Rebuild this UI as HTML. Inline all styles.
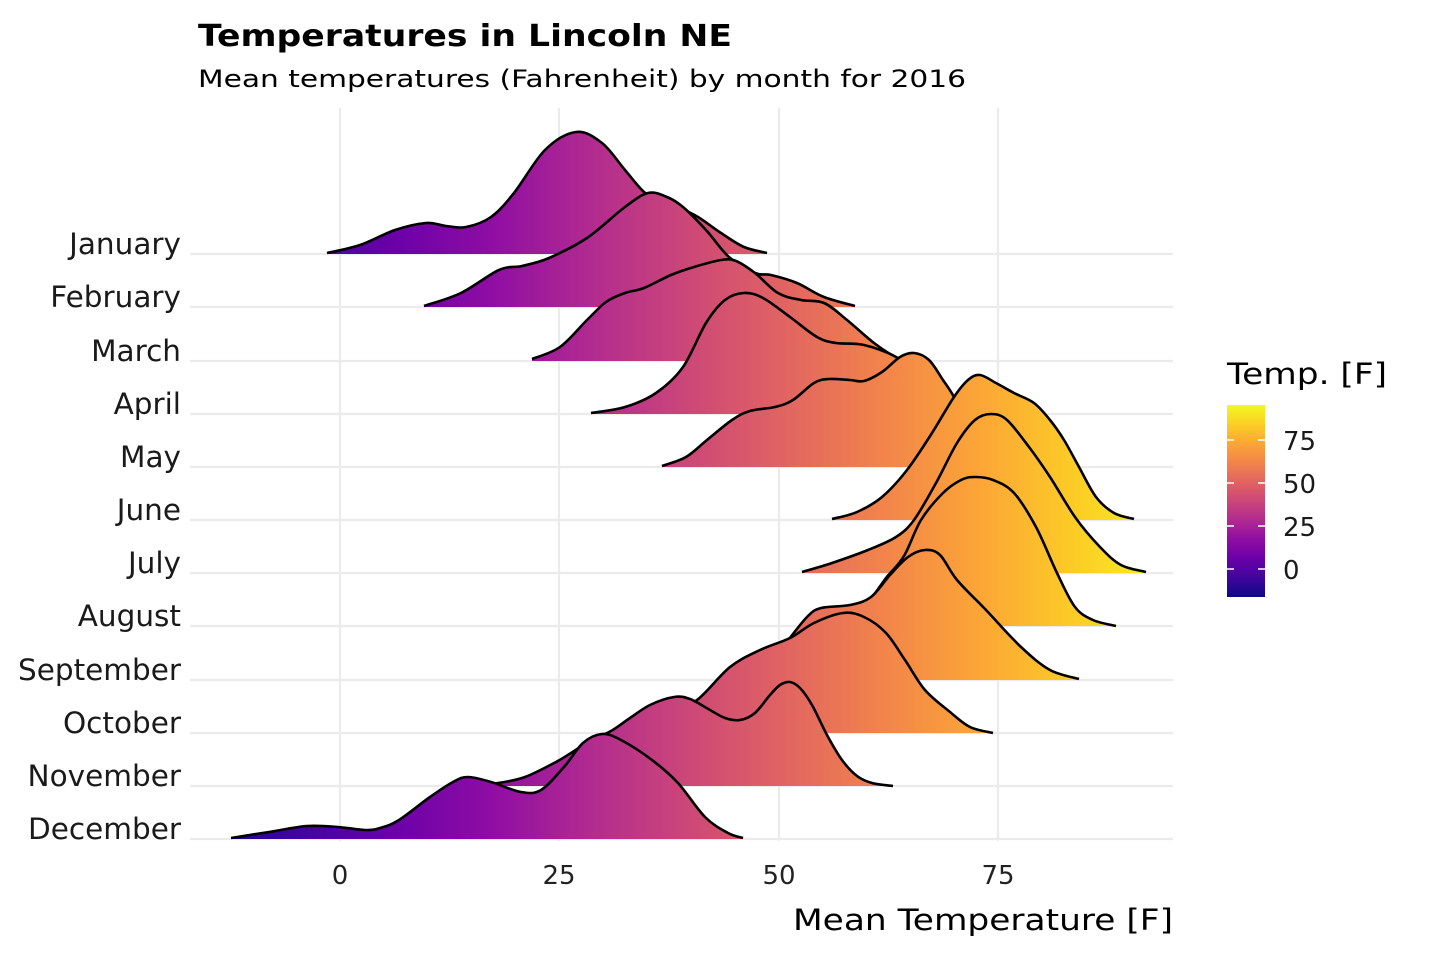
<!DOCTYPE html>
<html><head><meta charset="utf-8"><style>
html,body{margin:0;padding:0;background:#fff;}
svg{display:block;font-family:"DejaVu Sans","Liberation Sans",sans-serif;}
</style></head><body>
<svg id="s" width="1440" height="960" viewBox="0 0 1440 960" xmlns="http://www.w3.org/2000/svg">
<defs>
<linearGradient id="pl" gradientUnits="userSpaceOnUse" x1="197" y1="0" x2="1177" y2="0">
<stop offset="0" stop-color="#0d0887"/><stop offset="0.1" stop-color="#41049d"/><stop offset="0.2" stop-color="#6a00a8"/><stop offset="0.3" stop-color="#8f0da4"/><stop offset="0.4" stop-color="#b12a90"/><stop offset="0.5" stop-color="#cc4778"/><stop offset="0.6" stop-color="#e16462"/><stop offset="0.7" stop-color="#f2844b"/><stop offset="0.8" stop-color="#fca636"/><stop offset="0.9" stop-color="#fcce25"/><stop offset="1" stop-color="#f0f921"/>
</linearGradient>
<linearGradient id="lg" x1="0" y1="1" x2="0" y2="0">
<stop offset="0" stop-color="#0d0887"/><stop offset="0.1" stop-color="#41049d"/><stop offset="0.2" stop-color="#6a00a8"/><stop offset="0.3" stop-color="#8f0da4"/><stop offset="0.4" stop-color="#b12a90"/><stop offset="0.5" stop-color="#cc4778"/><stop offset="0.6" stop-color="#e16462"/><stop offset="0.7" stop-color="#f2844b"/><stop offset="0.8" stop-color="#fca636"/><stop offset="0.9" stop-color="#fcce25"/><stop offset="1" stop-color="#f0f921"/>
</linearGradient>
</defs>
<g stroke="#ebebeb" stroke-width="2.2">
<line x1="340" y1="108" x2="340" y2="841"/><line x1="559" y1="108" x2="559" y2="841"/><line x1="779" y1="108" x2="779" y2="841"/><line x1="998" y1="108" x2="998" y2="841"/>
<line x1="190" y1="254" x2="1173" y2="254"/><line x1="190" y1="307" x2="1173" y2="307"/><line x1="190" y1="361" x2="1173" y2="361"/><line x1="190" y1="414" x2="1173" y2="414"/><line x1="190" y1="467" x2="1173" y2="467"/><line x1="190" y1="520" x2="1173" y2="520"/><line x1="190" y1="573" x2="1173" y2="573"/><line x1="190" y1="626" x2="1173" y2="626"/><line x1="190" y1="680" x2="1173" y2="680"/><line x1="190" y1="733" x2="1173" y2="733"/><line x1="190" y1="786" x2="1173" y2="786"/><line x1="190" y1="839" x2="1173" y2="839"/>
</g>
<g id="ridges"></g>
<text x="198" y="46" font-size="30" font-weight="bold" textLength="534" lengthAdjust="spacingAndGlyphs">Temperatures in Lincoln NE</text>
<text x="198" y="87" font-size="24" textLength="768" lengthAdjust="spacingAndGlyphs">Mean temperatures (Fahrenheit) by month for 2016</text>
<g font-size="29.5" text-anchor="end" fill="#1a1a1a">
<text x="181" y="254">January</text><text x="181" y="307">February</text><text x="181" y="361">March</text><text x="181" y="414">April</text><text x="181" y="467">May</text><text x="181" y="520">June</text><text x="181" y="573">July</text><text x="181" y="626">August</text><text x="181" y="680" textLength="163" lengthAdjust="spacingAndGlyphs">September</text><text x="181" y="733">October</text><text x="181" y="786">November</text><text x="181" y="839">December</text>
</g>
<g font-size="26" text-anchor="middle" fill="#222">
<text x="340" y="884">0</text><text x="559" y="884">25</text><text x="779" y="884">50</text><text x="998" y="884">75</text>
</g>
<text x="1173" y="930" font-size="29" text-anchor="end" textLength="380" lengthAdjust="spacingAndGlyphs">Mean Temperature [F]</text>
<text x="1227" y="384" font-size="29" textLength="160" lengthAdjust="spacingAndGlyphs">Temp. [F]</text>
<rect x="1227" y="405" width="38" height="192" fill="url(#lg)"/>
<g stroke="#fff" stroke-width="1.5">
<line x1="1227" y1="440" x2="1234" y2="440"/><line x1="1258" y1="440" x2="1265" y2="440"/>
<line x1="1227" y1="483" x2="1234" y2="483"/><line x1="1258" y1="483" x2="1265" y2="483"/>
<line x1="1227" y1="526" x2="1234" y2="526"/><line x1="1258" y1="526" x2="1265" y2="526"/>
<line x1="1227" y1="569" x2="1234" y2="569"/><line x1="1258" y1="569" x2="1265" y2="569"/>
</g>
<g font-size="26" fill="#1a1a1a">
<text x="1283" y="450">75</text><text x="1283" y="493">50</text><text x="1283" y="536">25</text><text x="1283" y="579">0</text>
</g>
</svg>
<script>
var D=[
[254,[[327,253],[360,245],[395,230],[426,223],[446,226],[466,227],[491,217],[514,193],[545,150],[576,132],[602,143],[625,170],[644,192],[662,203],[679,208],[698,217],[721,233],[744,247],[767,253]]],
[307,[[424,306],[461,293],[499,270],[522,266],[549,258],[587,238],[625,207],[648,193],[667,197],[683,207],[706,230],[729,257],[755,273],[771,275],[797,283],[824,297],[855,306]]],
[361,[[532,359],[560,347],[587,320],[606,302],[625,293],[644,288],[671,275],[694,267],[721,260],[736,261],[755,273],[778,293],[801,300],[824,303],[847,320],[874,343],[897,358],[905,360]]],
[414,[[591,413],[625,407],[656,393],[683,367],[706,323],[725,300],[744,293],[763,298],[790,317],[817,337],[836,343],[864,345],[896,357],[915,375],[930,400],[945,413]]],
[467,[[662,466],[686,457],[707,440],[732,420],[750,411],[775,407],[793,400],[814,383],[829,379],[850,380],[864,381],[882,372],[900,357],[914,353],[929,360],[943,380],[954,397],[968,425],[980,450],[992,466]]],
[520,[[832,519],[857,512],[882,497],[907,470],[932,433],[954,397],[968,380],[980,375],[996,383],[1014,393],[1034,403],[1050,420],[1064,440],[1079,467],[1096,497],[1114,513],[1134,519]]],
[573,[[802,572],[832,563],[868,550],[896,537],[914,520],[936,483],[957,443],[975,420],[991,414],[1007,420],[1029,447],[1050,477],[1075,517],[1100,547],[1121,565],[1146,572]]],
[626,[[800,625],[840,621],[866,604],[886,578],[904,556],[921,520],[943,493],[961,480],[975,477],[993,480],[1014,493],[1036,527],[1057,573],[1075,607],[1093,620],[1116,626]]],
[680,[[745,680],[770,664],[786,643],[807,617],[821,608],[850,605],[871,597],[890,575],[908,557],[925,550],[940,555],[957,580],[986,610],[1021,647],[1050,670],[1079,679]]],
[733,[[609,732],[640,722],[670,712],[697,700],[730,667],[760,650],[790,638],[814,623],[843,613],[864,617],[886,633],[905,660],[925,690],[950,712],[970,727],[993,733]]],
[786,[[470,785],[498,783],[525,777],[556,762],[571,753],[590,741],[611,731],[630,718],[650,705],[674,697],[690,699],[710,710],[725,718],[740,720],[755,713],[770,695],[780,685],[790,682],[800,688],[812,705],[827,735],[842,760],[857,776],[872,783],[893,786]]],
[839,[[231,838],[269,832],[307,826],[338,827],[365,830],[380,828],[399,820],[430,797],[453,782],[468,777],[491,782],[521,792],[541,790],[564,767],[583,743],[602,734],[621,740],[652,760],[678,783],[705,817],[728,833],[743,838]]]
];
function cr(p){var d="M"+p[0][0]+","+p[0][1];for(var i=0;i<p.length-1;i++){var a=p[i-1]||p[i],b=p[i],c=p[i+1],e=p[i+2]||c;d+=" C"+(b[0]+(c[0]-a[0])/6).toFixed(1)+","+(b[1]+(c[1]-a[1])/6).toFixed(1)+" "+(c[0]-(e[0]-b[0])/6).toFixed(1)+","+(c[1]-(e[1]-b[1])/6).toFixed(1)+" "+c[0]+","+c[1];}return d;}
var g=document.getElementById("ridges"),h="";
D.forEach(function(r){var base=r[0],p=r[1],line=cr(p);
h+='<path d="'+line+' L'+p[p.length-1][0]+','+base+' L'+p[0][0]+','+base+' Z" fill="url(#pl)"/>';
h+='<path d="'+line+'" fill="none" stroke="#000" stroke-width="2.6" stroke-linejoin="round"/>';});
g.innerHTML=h;
</script>
</body></html>
